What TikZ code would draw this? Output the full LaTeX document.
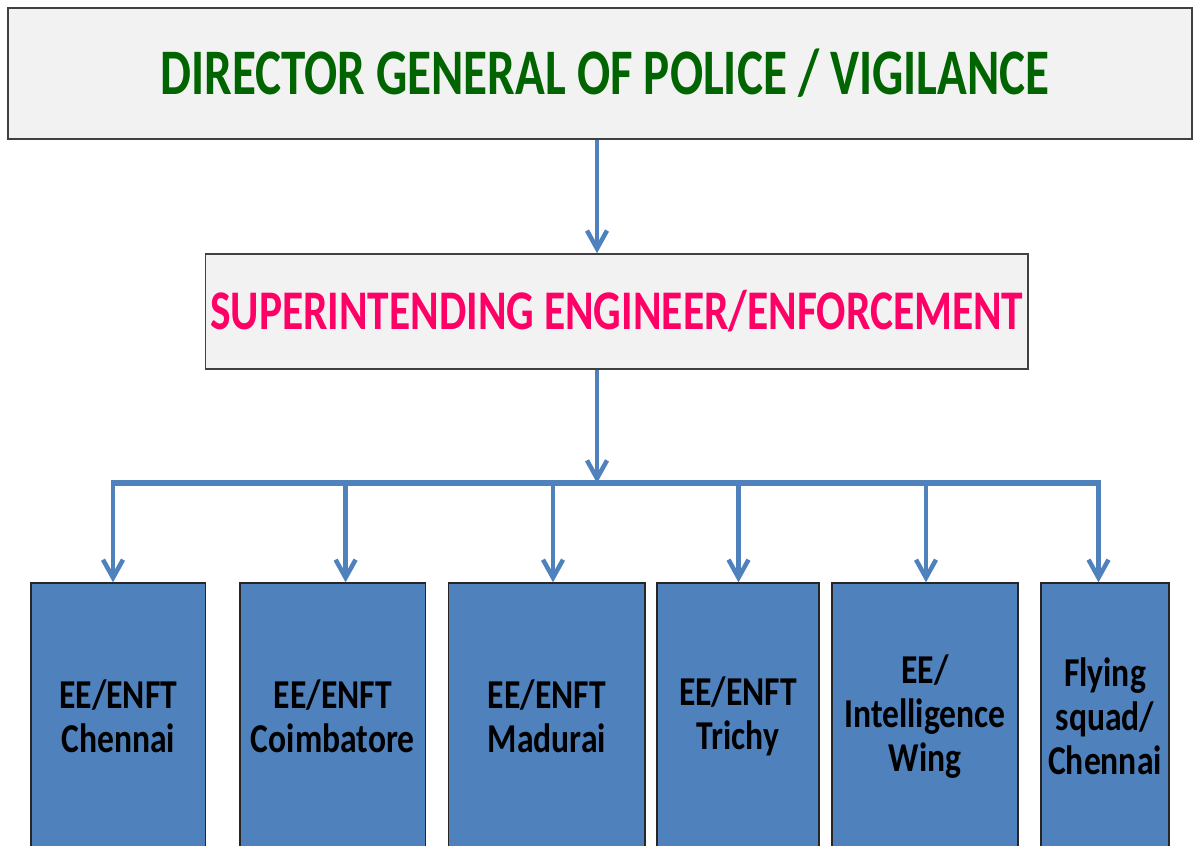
\documentclass[tikz,border=0pt]{standalone}
\usepackage{fontspec}
\setmainfont{Carlito}[FakeStretch=0.82]
\newfontfamily\dgpfont{Carlito}[FakeStretch=0.755]
\newfontfamily\sefont{Carlito}[FakeStretch=0.775]
\usetikzlibrary{arrows.meta}
\definecolor{lineblue}{HTML}{4F81BD}
\definecolor{boxblue}{HTML}{4F81BD}
\definecolor{titlegreen}{HTML}{006400}
\definecolor{titlepink}{HTML}{FF0066}
\definecolor{panelgray}{HTML}{F2F2F2}
\tikzset{
  headbox/.style={draw=black!75, line width=1.6pt, fill=panelgray, inner sep=0pt},
  unitbox/.style={draw=black!85, line width=1.4pt, fill=boxblue, inner sep=0pt,
    text=black, align=center, font=\bfseries\fontsize{41}{44}\selectfont},
  conn/.style={draw=lineblue, line width=4.5pt, -{Straight Barb[length=18pt,width=20pt]}},
  busline/.style={draw=lineblue, line width=6pt}
}
\begin{document}
\begin{tikzpicture}[x=1pt,y=-1pt]
\clip (0,0) rectangle (1200,846);
\fill[white] (0,0) rectangle (1200,846);
% head boxes
\node[headbox, minimum width=1184pt, minimum height=131pt] (dgp) at (600,73.5)
  {\hspace{10pt}\textcolor{titlegreen}{\dgpfont\bfseries\fontsize{65}{70}\selectfont DIRECTOR GENERAL OF POLICE / VIGILANCE}};
\node[headbox, minimum width=822.5pt, minimum height=115pt] (se) at (616.75,311.5)
  {\textcolor{titlepink}{\sefont\bfseries\fontsize{56}{60}\selectfont SUPERINTENDING ENGINEER/ENFORCEMENT}};
% unit boxes (extend past the lower edge)
\node[unitbox, minimum width=174.5pt, minimum height=267pt] (u1) at (118.25,716.5) {EE/ENFT\\Chennai};
\node[unitbox, minimum width=185.6pt, minimum height=267pt] (u2) at (332.8,716.5) {EE/ENFT\\Coimbatore};
\node[unitbox, minimum width=196.5pt, minimum height=267pt] (u3) at (546.75,716.5) {EE/ENFT\\Madurai};
\node[unitbox, minimum width=162pt, minimum height=267pt] (u4) at (738,716.5) {EE/ENFT\\Trichy};
\node[unitbox, minimum width=186pt, minimum height=267pt] (u5) at (925,716.5) {EE/\\Intelligence\\Wing};
\node[unitbox, minimum width=128pt, minimum height=267pt] (u6) at (1105,716.5) {Flying\\squad/\\Chennai};
% bus coordinates
\coordinate (hub) at (597,483);
\coordinate (b1) at (113,483);
\coordinate (b2) at (345.6,483);
\coordinate (b3) at (553,483);
\coordinate (b4) at (738.5,483);
\coordinate (b5) at (926,483);
\coordinate (b6) at (1098.5,483);
% connectors
\draw[conn] (dgp.south -| hub) -- (se.north -| hub);
\draw[busline] ([xshift=-2.25pt]b1) -- ([xshift=2.25pt]b6);
\draw[conn] (se.south -| hub) -- (hub);
\foreach \i in {1,...,6} {
  \draw[conn] (b\i) -- (u\i.north -| b\i);
}
\end{tikzpicture}
\end{document}
